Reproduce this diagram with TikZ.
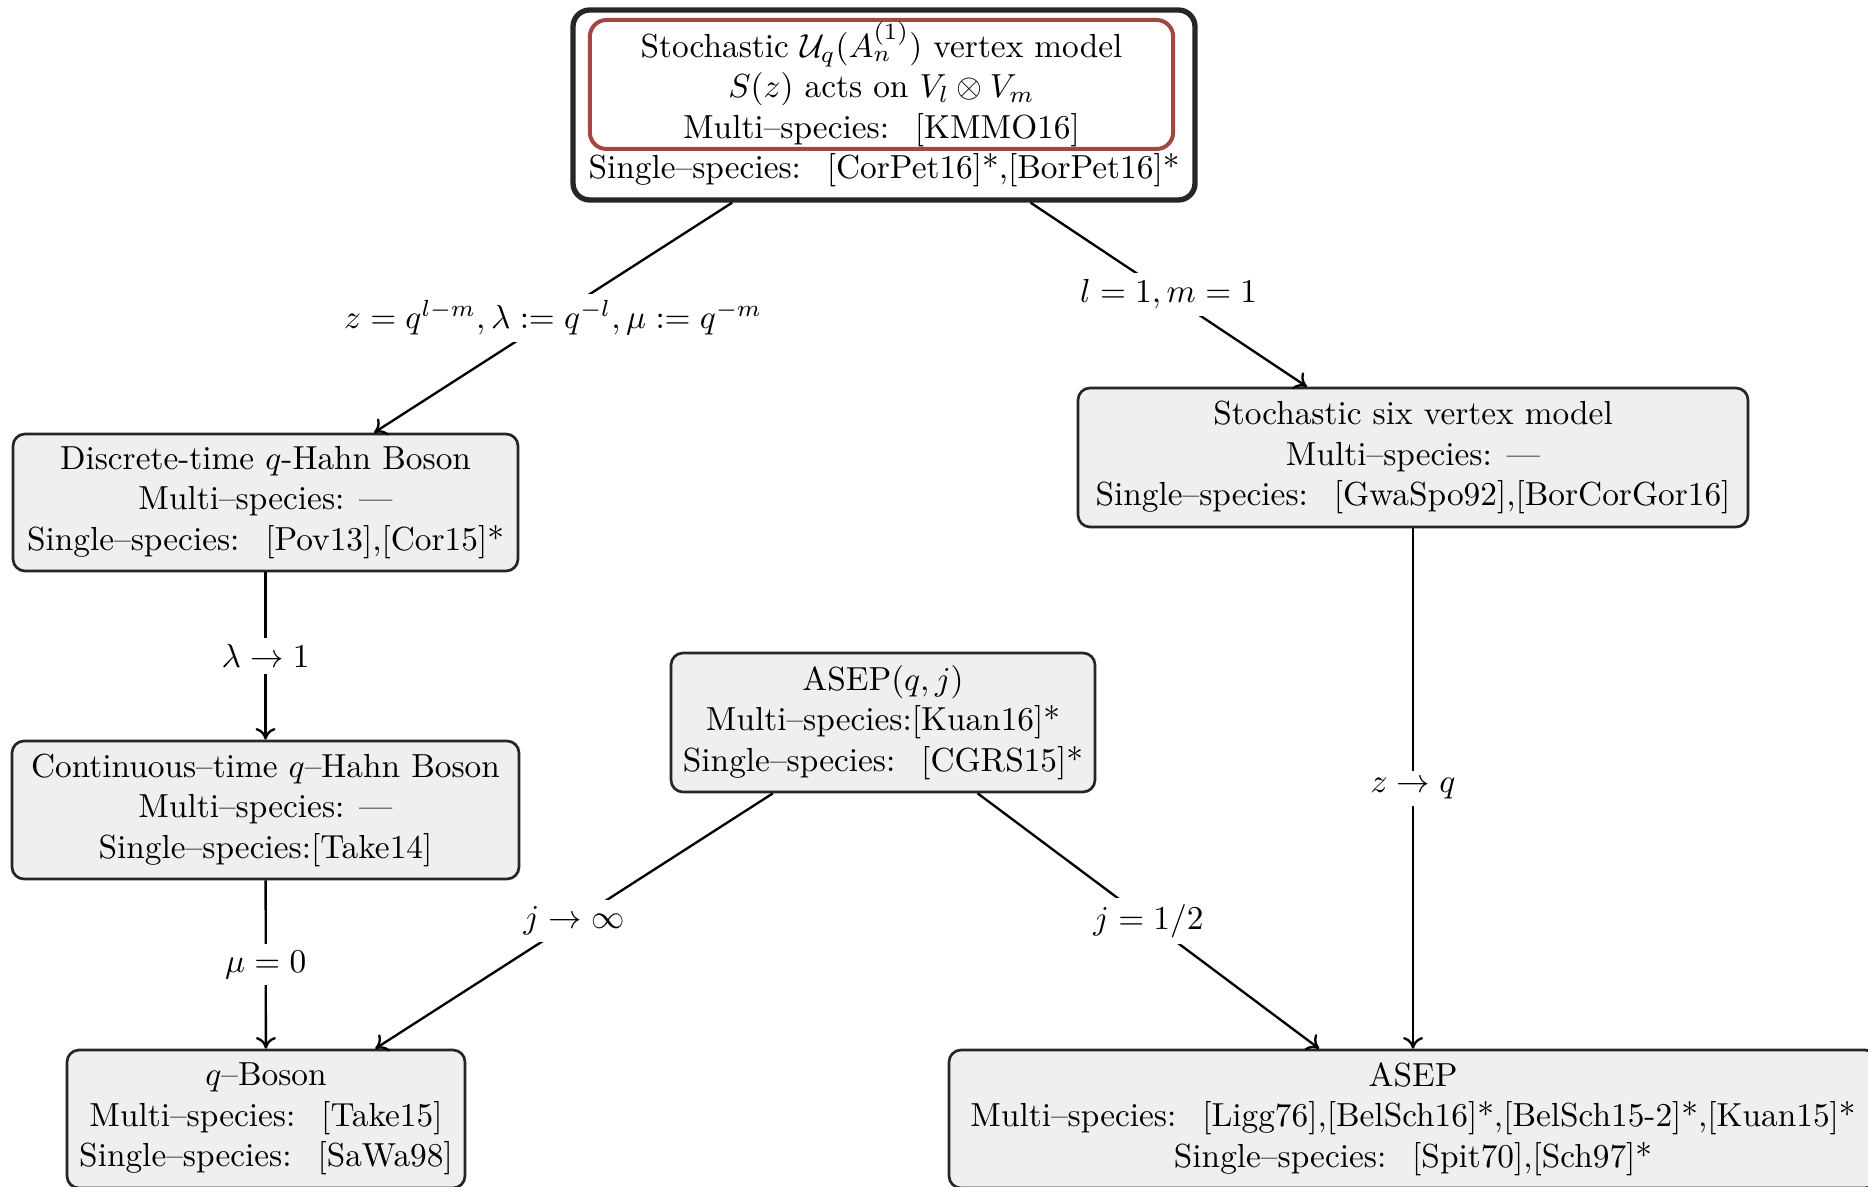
\documentclass[tikz,border=0pt]{standalone}
\usetikzlibrary{arrows.meta}
\definecolor{boxfill}{RGB}{239,239,239}
\definecolor{redbox}{RGB}{160,72,66}
\begin{document}
\begin{tikzpicture}[x=0.3pt,y=-0.3pt,
  font=\fontsize{10}{12.15}\selectfont,
  model/.style={draw=black!85, fill=boxfill, rounded corners=3.6pt, line width=0.8pt, align=center, inner sep=0pt},
  conn/.style={line width=0.7pt, -{To[length=3.5pt,width=6pt]}},
  lbl/.style={fill=white, inner sep=2pt, midway}
]
\useasboundingbox (0,0) rectangle (1868,1187);
\node[model, fill=white, line width=1.6pt, rounded corners=5pt, minimum width=186.6pt, minimum height=57pt] (top) at (884,105) {};
\node[draw=redbox, line width=1.2pt, rounded corners=5pt, minimum width=175pt, minimum height=38.7pt, align=center, inner sep=0pt] (ttl) at (881.5,84.5) {Stochastic $\mathcal{U}_q(A_n^{(1)})$ vertex model\\ $S(z)$ acts on $V_l\otimes V_m$\\ Multi--species:~ [KMMO16]};
\node (single) at (884,170) {Single--species:~ [CorPet16]*,[BorPet16]*};

\node[model, minimum width=151.5pt, minimum height=41.1pt] (dq) at (265.5,502.5) {Discrete-time $q$-Hahn Boson\\ Multi--species: ---\\ Single--species:~ [Pov13],[Cor15]*};
\node[model, minimum width=201pt, minimum height=41.7pt] (six) at (1413,457.5) {Stochastic six vertex model\\ Multi--species: ---\\ Single--species:~ [GwaSpo92],[BorCorGor16]};
\node[model, minimum width=152.1pt, minimum height=41.4pt] (cq) at (265.5,810) {Continuous--time $q$--Hahn Boson\\ Multi--species: ---\\ Single--species:[Take14]};
\node[model, minimum width=127.2pt, minimum height=41.7pt] (aqj) at (883,722.5) {ASEP$(q,j)$\\ Multi--species:[Kuan16]*\\ Single--species:~ [CGRS15]*};
\node[model, minimum width=119.4pt, minimum height=41.4pt] (qb) at (266,1119) {$q$--Boson\\ Multi--species:~ [Take15]\\ Single--species:~ [SaWa98]};
\node[model, minimum width=278.4pt, minimum height=41.4pt] (asep) at (1413,1119) {ASEP\\ Multi--species:~ [Ligg76],[BelSch16]*,[BelSch15-2]*,[Kuan15]*\\ Single--species:~ [Spit70],[Sch97]*};

\draw[conn] (top) -- node[lbl]{$z=q^{l-m}, \lambda:=q^{-l}, \mu:=q^{-m}$} (dq);
\draw[conn] (top) -- node[lbl]{$l=1, m=1$} (six);
\draw[conn] (dq) -- node[lbl]{$\lambda\to 1$} (cq);
\draw[conn] (cq) -- node[lbl]{$\mu=0$} (qb);
\draw[conn] (aqj) -- node[lbl]{$j\to\infty$} (qb);
\draw[conn] (aqj) -- node[lbl]{$j=1/2$} (asep);
\draw[conn] (six) -- node[lbl]{$z\to q$} (asep);
\end{tikzpicture}
\end{document}
